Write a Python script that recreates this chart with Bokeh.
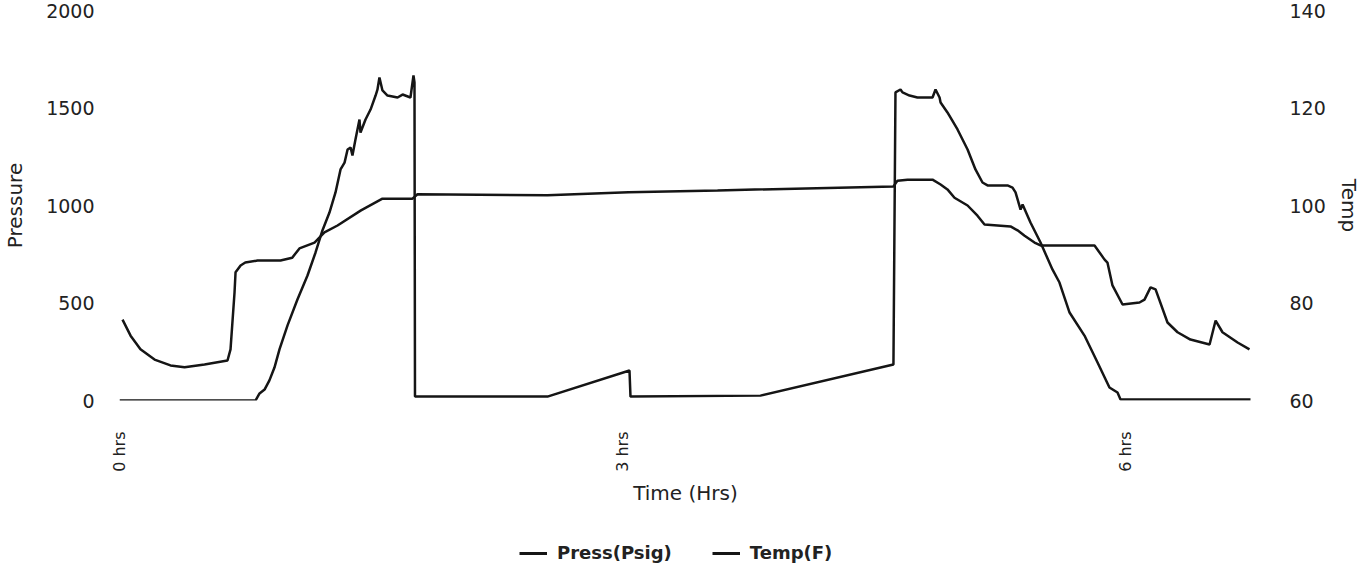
import math
from bokeh.plotting import figure
from bokeh.layouts import column
from bokeh.models import Range1d, LinearAxis, FixedTicker, Legend, LegendItem
from bokeh.embed import file_html
from bokeh.resources import INLINE

# ---- data ----
press_hours = [0.0, 0.811, 0.835, 0.865, 0.894, 0.924, 0.954, 1.002, 1.061, 1.121, 1.169,
               1.210, 1.252, 1.288, 1.318, 1.342, 1.360, 1.378, 1.389, 1.407, 1.431, 1.437,
               1.467, 1.497, 1.527, 1.538, 1.550, 1.568, 1.598, 1.658, 1.688, 1.735, 1.753,
               1.759, 1.762,
               2.552, 3.041, 3.047, 3.822, 4.615,
               4.627, 4.657, 4.669, 4.711, 4.758, 4.848, 4.866, 4.890, 4.896, 4.937, 4.997,
               5.057, 5.104, 5.146, 5.176, 5.295, 5.325, 5.343, 5.373, 5.385, 5.432, 5.492,
               5.563, 5.605, 5.665, 5.754, 5.832, 5.903, 5.951, 5.969, 6.744]
press_psig = [0, 0, 36, 56, 103, 169, 262, 385, 518, 641, 759,
              872, 964, 1067, 1185, 1220, 1287, 1297, 1256, 1338, 1441, 1374,
              1441, 1492, 1564, 1594, 1656, 1590, 1564, 1554, 1569, 1554, 1667,
              1631, 20,
              20, 154, 20, 25, 185,
              1580, 1595, 1580, 1564, 1554, 1554, 1595, 1554, 1528, 1477, 1390,
              1287, 1185, 1118, 1103, 1103, 1092, 1067, 979, 1005, 913, 810,
              672, 605, 451, 333, 195, 67, 41, 5, 5]

temp_hours = [0.018, 0.066, 0.125, 0.209, 0.304, 0.388, 0.507, 0.644, 0.662, 0.686, 0.692,
              0.722, 0.750, 0.823, 0.960, 1.030, 1.073, 1.163, 1.222, 1.300, 1.440, 1.568,
              1.747, 1.777, 2.552, 3.035, 3.566, 4.615, 4.639, 4.699, 4.848, 4.896, 4.937,
              4.979, 5.057, 5.116, 5.158, 5.313, 5.355, 5.397, 5.456, 5.492, 5.814, 5.874,
              5.891, 5.921, 5.981, 6.082, 6.112, 6.148, 6.178, 6.249, 6.309, 6.386, 6.500,
              6.536, 6.577, 6.667, 6.738]
temp_f = [76.6, 73.3, 70.5, 68.4, 67.2, 66.8, 67.4, 68.2, 70.5, 82.2, 86.3,
          87.7, 88.3, 88.7, 88.7, 89.3, 91.2, 92.4, 94.5, 95.9, 99.0, 101.4,
          101.4, 102.3, 102.1, 102.7, 103.1, 103.9, 105.1, 105.3, 105.3, 104.3, 103.3,
          101.6, 100.0, 97.9, 96.1, 95.7, 94.9, 93.8, 92.4, 91.8, 91.8, 88.9,
          88.3, 83.6, 79.7, 80.1, 80.7, 83.2, 82.8, 76.0, 74.0, 72.5, 71.5,
          76.4, 74.0, 71.9, 70.5]

series_labels = ["Press(Psig)", "Temp(F)"]
x_ticks = [0, 3, 6]
x_tick_labels = ["0 hrs", "3 hrs", "6 hrs"]
press_ticks = [0, 500, 1000, 1500, 2000]
temp_ticks = [60, 80, 100, 120, 140]

FONT = "DejaVu Sans"
TXT = "#222222"
LINE = "#151515"
NAN = float("nan")

p = figure(frame_width=1132, frame_height=390, output_backend="svg", toolbar_location=None,
           x_range=Range1d(0, 6.75), y_range=Range1d(0, 2000),
           min_border_left=114, min_border_right=105, min_border_top=10, min_border_bottom=104)
p.outline_line_color = None
p.grid.visible = False
p.background_fill_color = "white"
p.border_fill_color = "white"

p.extra_y_ranges = {"temp": Range1d(60, 140)}

p.line(press_hours, press_psig, line_color=LINE, line_width=2.5)
p.line(temp_hours, temp_f, line_color=LINE, line_width=2.5, y_range_name="temp")

def style(ax, size):
    ax.axis_line_color = None
    ax.major_tick_line_color = None
    ax.minor_tick_line_color = None
    ax.major_tick_out = 0
    ax.major_tick_in = 0
    ax.major_label_text_font = FONT
    ax.major_label_text_font_size = size
    ax.major_label_text_color = TXT
    ax.axis_label_text_font = FONT
    ax.axis_label_text_font_size = "20px"
    ax.axis_label_text_font_style = "normal"
    ax.axis_label_text_color = TXT

xa = p.xaxis[0]
style(xa, "16px")
xa.ticker = FixedTicker(ticks=x_ticks)
xa.major_label_overrides = {t: l for t, l in zip(x_ticks, x_tick_labels)}
xa.major_label_orientation = math.pi / 2
xa.major_label_standoff = 31
xa.axis_label = "Time (Hrs)"
xa.axis_label_standoff = 6

ya = p.yaxis[0]
style(ya, "19px")
ya.ticker = FixedTicker(ticks=press_ticks)
ya.major_label_standoff = 25
ya.axis_label = "Pressure"
ya.axis_label_standoff = 16

yr = LinearAxis(y_range_name="temp", ticker=FixedTicker(ticks=temp_ticks), axis_label="Temp")
style(yr, "19px")
yr.major_label_standoff = 38
yr.axis_label_standoff = 8
p.add_layout(yr, "right")

# ---- legend strip below the chart (same frame geometry as the chart) ----
leg = figure(frame_width=1132, frame_height=56, output_backend="svg", toolbar_location=None,
             x_range=Range1d(0, 1), y_range=Range1d(0, 1),
             x_axis_location=None, y_axis_location=None,
             min_border_left=114, min_border_right=105, min_border_top=0, min_border_bottom=0)
leg.outline_line_color = None
leg.grid.visible = False
leg.background_fill_color = "white"
leg.border_fill_color = "white"
k_press = leg.line([NAN], [NAN], line_color=LINE, line_width=3)
k_temp = leg.line([NAN], [NAN], line_color=LINE, line_width=3)

legend = Legend(items=[LegendItem(label=series_labels[0], renderers=[k_press]),
                       LegendItem(label=series_labels[1], renderers=[k_temp])],
                orientation="horizontal", location=(400, 0),
                padding=0, margin=0, spacing=40, glyph_width=28, glyph_height=20,
                label_standoff=10, border_line_color=None, background_fill_alpha=0,
                label_text_font=FONT, label_text_font_size="18px",
                label_text_font_style="bold", label_text_color=TXT)
leg.add_layout(legend)

open("out.html", "w").write(file_html(column(p, leg), INLINE))
